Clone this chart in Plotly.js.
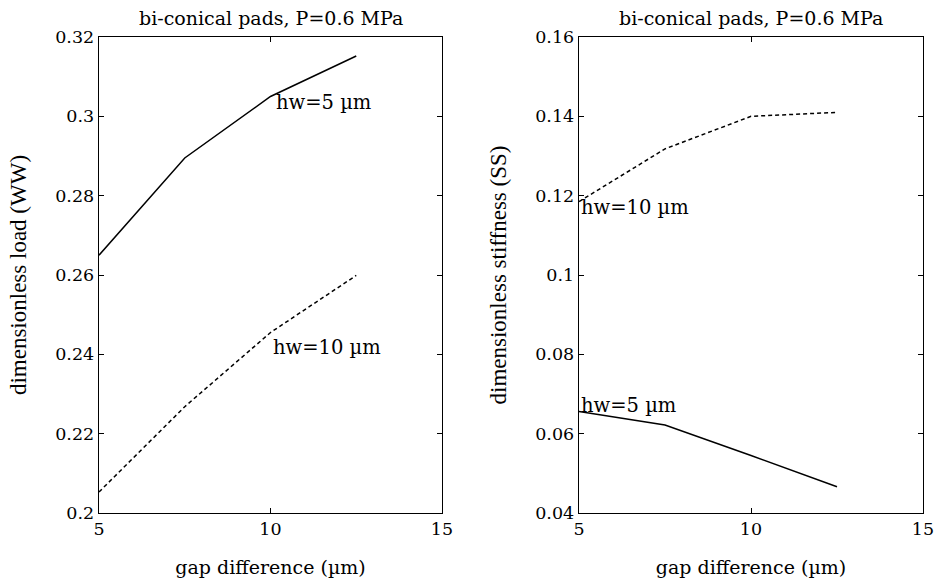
<!DOCTYPE html>
<html>
<head>
<meta charset="utf-8">
<script src="https://cdn.plot.ly/plotly-3.0.1.min.js"></script>
<style>html,body{margin:0;padding:0;background:#fff;}#chart{width:945px;height:582px;}</style>
</head>
<body>
<div id="chart"></div>
<script>
// gap difference (µm)
const gapDiff = [5, 7.5, 10, 12.5];
// dimensionless load (WW)
const loadHw5 = [0.265, 0.2895, 0.305, 0.3152];
const loadHw10 = [0.2053, 0.2268, 0.2455, 0.2599];
// dimensionless stiffness (SS)
const stiffHw10 = [0.1185, 0.1318, 0.1400, 0.1410];
const stiffHw5 = [0.0656, 0.0622, 0.0545, 0.0466];

const xTicks = [5, 10, 15];
const xTickText = ['5', '10', '15'];
const loadTicks = [0.2, 0.22, 0.24, 0.26, 0.28, 0.3, 0.32];
const loadTickText = ['0.2', '0.22', '0.24', '0.26', '0.28', '0.3', '0.32'];
const stiffTicks = [0.04, 0.06, 0.08, 0.1, 0.12, 0.14, 0.16];
const stiffTickText = ['0.04', '0.06', '0.08', '0.1', '0.12', '0.14', '0.16'];

const plotTitle = 'bi-conical pads, P=0.6 MPa';
const xTitle = 'gap difference (µm)';
const yTitleLoad = 'dimensionless load (WW)';
const yTitleStiff = 'dimensionless stiffness (SS)';

const serif = 'DejaVu Serif, serif';
const times = 'Liberation Serif, Times New Roman, serif';

const solid = {color: '#000', width: 1.5, dash: 'solid'};
const dashed = {color: '#000', width: 1.5, dash: '4px,3px'};

const traces = [
  {x: gapDiff, y: loadHw5, mode: 'lines', line: solid, xaxis: 'x', yaxis: 'y', name: 'hw=5 µm'},
  {x: gapDiff, y: loadHw10, mode: 'lines', line: dashed, xaxis: 'x', yaxis: 'y', name: 'hw=10 µm'},
  {x: gapDiff, y: stiffHw10, mode: 'lines', line: dashed, xaxis: 'x2', yaxis: 'y2', name: 'hw=10 µm'},
  {x: gapDiff, y: stiffHw5, mode: 'lines', line: solid, xaxis: 'x2', yaxis: 'y2', name: 'hw=5 µm'}
];

const axBase = {
  showgrid: false, zeroline: false, showline: true, linecolor: '#000', linewidth: 1.3,
  mirror: 'ticks', ticks: 'inside', ticklen: 5, tickwidth: 1, tickcolor: '#000',
  tickfont: {family: serif, size: 17.5, color: '#000'}, automargin: false, tickmode: 'array'
};

const yDom = [1 - 513 / 582, 1 - 37 / 582];

const layout = {
  width: 945, height: 582,
  margin: {l: 0, r: 0, t: 0, b: 0},
  paper_bgcolor: '#fff', plot_bgcolor: '#fff',
  showlegend: false,
  xaxis: Object.assign({}, axBase, {
    domain: [99 / 945, 442 / 945], range: [5, 15], tickvals: xTicks, ticktext: xTickText, anchor: 'y',
    title: {text: xTitle, font: {family: serif, size: 19, color: '#000'}, standoff: 22}
  }),
  yaxis: Object.assign({}, axBase, {
    domain: yDom, range: [0.2, 0.32], tickvals: loadTicks, ticktext: loadTickText, anchor: 'x',
    title: {text: yTitleLoad, font: {family: times, size: 23, color: '#000'}, standoff: 22}
  }),
  xaxis2: Object.assign({}, axBase, {
    domain: [579 / 945, 923 / 945], range: [5, 15], tickvals: xTicks, ticktext: xTickText, anchor: 'y2',
    title: {text: xTitle, font: {family: serif, size: 19, color: '#000'}, standoff: 22}
  }),
  yaxis2: Object.assign({}, axBase, {
    domain: yDom, range: [0.04, 0.16], tickvals: stiffTicks, ticktext: stiffTickText, anchor: 'x2',
    title: {text: yTitleStiff, font: {family: times, size: 23, color: '#000'}, standoff: 22}
  }),
  annotations: [
    {text: plotTitle, xref: 'paper', yref: 'paper', x: 270.5 / 945, y: 1 - 18 / 582, xanchor: 'center', yanchor: 'middle',
     showarrow: false, font: {family: serif, size: 19, color: '#000'}},
    {text: plotTitle, xref: 'paper', yref: 'paper', x: 751 / 945, y: 1 - 18 / 582, xanchor: 'center', yanchor: 'middle',
     showarrow: false, font: {family: serif, size: 19, color: '#000'}},
    {text: 'hw=5 µm', xref: 'x', yref: 'y', x: 10.1, y: 0.3035, xanchor: 'left', yanchor: 'middle',
     showarrow: false, font: {family: serif, size: 19.5, color: '#000'}},
    {text: 'hw=10 µm', xref: 'x', yref: 'y', x: 10.0, y: 0.2416, xanchor: 'left', yanchor: 'middle',
     showarrow: false, font: {family: serif, size: 19.5, color: '#000'}},
    {text: 'hw=10 µm', xref: 'x2', yref: 'y2', x: 5.0, y: 0.1169, xanchor: 'left', yanchor: 'middle',
     showarrow: false, font: {family: serif, size: 19.5, color: '#000'}},
    {text: 'hw=5 µm', xref: 'x2', yref: 'y2', x: 5.0, y: 0.0672, xanchor: 'left', yanchor: 'middle',
     showarrow: false, font: {family: serif, size: 19.5, color: '#000'}}
  ]
};

Plotly.newPlot('chart', traces, layout, {staticPlot: true, displayModeBar: false});
</script>
</body>
</html>
